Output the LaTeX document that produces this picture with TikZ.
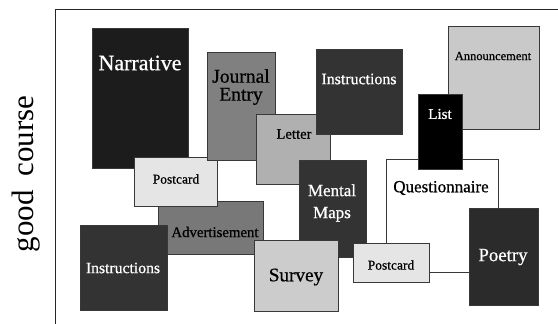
\documentclass[tikz,border=0pt]{standalone}
\usepackage{fontspec}
\setmainfont{Liberation Serif}
\newfontfamily\cardfont[FakeBold=0.7]{Liberation Serif}
\begin{document}
\begin{tikzpicture}[x=1pt,y=-1pt,
  card/.style={draw=black!78, line width=0.9pt, inner sep=0pt, anchor=north west},
  lbl/.style={inner sep=0pt, align=center},
  fs/.style={font=\cardfont\fontsize{#1}{#1}\selectfont}]
\useasboundingbox (0,0) rectangle (558,324);
\fill[white] (0,0) rectangle (558,324);
% frame
\coordinate (ftl) at (55,9);
\coordinate (ftr) at (558,9);
\coordinate (fbl) at (55,324);
\draw[black!85, line width=0.9pt] (ftr) -- (ftl) -- (fbl);
% axis label
\node[lbl, rotate=90, font=\rmfamily\fontsize{31}{31}\selectfont] (axis) at (26,174) {good\hspace{14pt}course};
% cards (back to front)
\node[card, fill=black!89, minimum width=96pt, minimum height=140pt] (narr) at (92,28) {};
\node[card, fill=black!53, minimum width=105pt, minimum height=53pt] (adv) at (158,201) {};
\node[card, fill=black!10, minimum width=83pt, minimum height=49pt] (pcl) at (134,157) {};
\node[card, fill=black!80, minimum width=87pt, minimum height=85pt] (instb) at (80,225) {};
\node[card, fill=black!50, minimum width=68pt, minimum height=108pt] (journ) at (207,52) {};
\node[card, fill=black!31, minimum width=74pt, minimum height=70pt] (lett) at (256,114) {};
\node[card, fill=black!80, minimum width=67pt, minimum height=97pt] (mmaps) at (299,160) {};
\node[card, fill=black!20, minimum width=84pt, minimum height=71pt] (surv) at (254,240) {};
\node[card, fill=white, minimum width=112pt, minimum height=113pt] (quest) at (386,159) {};
\node[card, fill=black!10, minimum width=76pt, minimum height=39pt] (pcr) at (353,243) {};
\node[card, fill=black!83, minimum width=69pt, minimum height=97pt] (poet) at (469,208) {};
\node[card, fill=black!21, minimum width=91pt, minimum height=103pt] (ann) at (448,26) {};
\node[card, fill=black, minimum width=44pt, minimum height=75pt] (list) at (418,94) {};
\node[card, fill=black!80, minimum width=86pt, minimum height=85pt] (instt) at (316,49) {};
% texts
\node[lbl, fs=22, text=white] (tnarr) at (140,63) {Narrative};
\node[lbl, fs=14.8] (tadv) at (215,232) {Advertisement};
\node[lbl, fs=13.5] (tpcl) at (176,179) {Postcard};
\node[lbl, fs=15.7, text=white] (tinstb) at (123,268) {Instructions};
\node[lbl, align=center, font=\cardfont\fontsize{19.5}{18}\selectfont] (tjourn) at (241,87) {Journal\\Entry};
\node[lbl, fs=14.7] (tlett) at (294,134) {Letter};
\node[lbl, text=white, align=center, font=\cardfont\fontsize{17}{22}\selectfont] (tmmaps) at (332,203) {Mental\\Maps};
\node[lbl, fs=19.2] (tsurv) at (296,277) {Survey};
\node[lbl, fs=17] (tquest) at (441,188) {Questionnaire};
\node[lbl, fs=13.5] (tpcr) at (391,265) {Postcard};
\node[lbl, fs=18.8, text=white] (tpoet) at (503,257) {Poetry};
\node[lbl, fs=12.5] (tann) at (493,56) {Announcement};
\node[lbl, fs=15, text=white] (tlist) at (440,114) {List};
\node[lbl, fs=15.9, text=white] (tinstt) at (359,79) {Instructions};
\end{tikzpicture}
\end{document}
